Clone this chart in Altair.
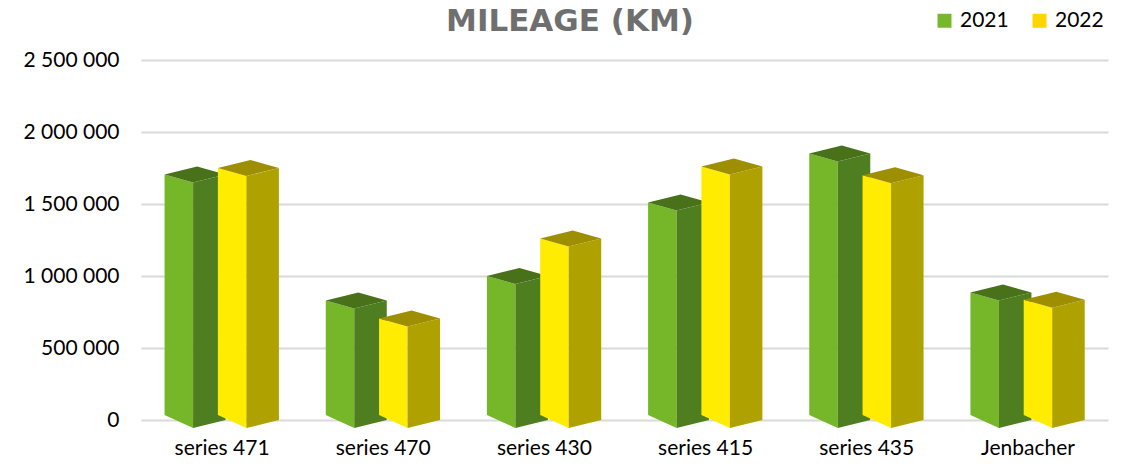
import altair as alt
import pandas as pd

# ---------------- data ----------------
categories = ["series 471", "series 470", "series 430", "series 415", "series 435", "Jenbacher"]
years = ["2021", "2022"]
values_2021 = [1705000, 830000, 1000000, 1510000, 1850000, 885000]
values_2022 = [1750000, 705000, 1260000, 1760000, 1700000, 835000]
y_ticks = [0, 500000, 1000000, 1500000, 2000000, 2500000]
title_text = "MILEAGE (KM)"

# ---------------- 3D bar geometry (styles) ----------------
W, H = 967, 360
X_DOMAIN = [-0.5, len(categories) - 0.5]
Y_DOMAIN = [0, 2500000]
PX_X = (X_DOMAIN[1] - X_DOMAIN[0]) / W      # category units per pixel
PX_Y = (Y_DOMAIN[1] - Y_DOMAIN[0]) / H      # value units per pixel

FRONT = 28.5 * PX_X      # front face width
SIDE = 32.5 * PX_X       # side face width
RISE = 8 * PX_Y          # perspective slope of top edges
LEFT_OFF = {"2021": -57 * PX_X, "2022": -3.7 * PX_X}
BOT_L, BOT_F, BOT_R = 5 * PX_Y, -8 * PX_Y, 0.0

face_colors = {
    "2021": {"front": "#76B72A", "side": "#4E7E1F", "top": "#48711A"},
    "2022": {"front": "#FFEC00", "side": "#AFA100", "top": "#9E8F00"},
}
legend_colors = ["#76B82A", "#FFD500"]

rows = []
for year, vals in zip(years, [values_2021, values_2022]):
    for i, v in enumerate(vals):
        xl = i + LEFT_OFF[year]
        xf = xl + FRONT
        xb = xl + SIDE
        xr = xf + SIDE
        k = f"{year}-{i}"
        rows += [
            dict(year=year, face="front", key=k, px=xl, hi=v, lo=BOT_L),
            dict(year=year, face="front", key=k, px=xf, hi=v - RISE, lo=BOT_F),
            dict(year=year, face="side", key=k, px=xf, hi=v - RISE, lo=BOT_F),
            dict(year=year, face="side", key=k, px=xr, hi=v, lo=BOT_R),
            dict(year=year, face="top", key=k, px=xl, hi=v, lo=v),
            dict(year=year, face="top", key=k, px=xf, hi=v + RISE * FRONT / SIDE, lo=v - RISE),
            dict(year=year, face="top", key=k, px=xb, hi=v + RISE, lo=v - RISE + RISE * (xb - xf) / SIDE),
            dict(year=year, face="top", key=k, px=xr, hi=v, lo=v),
        ]
df = pd.DataFrame(rows)

FONT = "Lato"
label_expr_x = "[" + ",".join("'" + c + "'" for c in categories) + "][datum.value]"
label_expr_y = "replace(replace(format(datum.value, ','), ',', ' '), ',', ' ')"

x_scale = alt.Scale(domain=X_DOMAIN, nice=False, zero=False)
y_scale = alt.Scale(domain=Y_DOMAIN, nice=False)

x_axis = alt.Axis(values=list(range(len(categories))), labelExpr=label_expr_x, grid=False,
                  ticks=False, domain=False, labelFont=FONT, labelFontSize=21,
                  labelColor="#000000", labelPadding=17, title=None)
y_axis = alt.Axis(values=y_ticks, labelExpr=label_expr_y, grid=True, gridColor="#D9D9D9",
                  gridWidth=2, ticks=False, domain=False, labelFont=FONT, labelFontSize=21,
                  labelColor="#000000", labelPadding=22, title=None)

layers = []
for year in years:
    for face in ["front", "side", "top"]:
        sub = df[(df.year == year) & (df.face == face)].reset_index(drop=True)
        layers.append(
            alt.Chart(sub).mark_area(fill=face_colors[year][face], interpolate="linear").encode(
                x=alt.X("px:Q", scale=x_scale, axis=x_axis),
                y=alt.Y("hi:Q", scale=y_scale, stack=None, axis=y_axis),
                y2="lo:Q",
                detail="key:N",
            )
        )

legend_df = pd.DataFrame({"year": years})
legend_layer = alt.Chart(legend_df).mark_square(opacity=1, size=196).encode(
    x=alt.value(-600), y=alt.value(-600),
    color=alt.Color("year:N", scale=alt.Scale(domain=years, range=legend_colors),
                    legend=alt.Legend(orient="none", legendX=793, legendY=-50, direction="horizontal",
                                      title=None, symbolType="square", symbolSize=196,
                                      symbolStrokeWidth=0, labelFont=FONT, labelFontSize=21,
                                      labelColor="#000000", labelOffset=5, columnPadding=20,
                                      padding=0)),
)
layers.append(legend_layer)

title_layer = alt.Chart(pd.DataFrame({"t": [title_text]})).mark_text(
    font="DejaVu Sans", fontSize=31, fontWeight="bold", color="#6F6F6F",
    align="center", baseline="middle"
).encode(text="t:N", x=alt.value(570 - 141), y=alt.value(22 - 60))
layers.append(title_layer)

chart = alt.layer(*layers).properties(
    width=W, height=H,
    autosize=alt.AutoSizeParams(type="none"),
    padding={"left": 133, "top": 52, "right": 18, "bottom": 39},
    background="white",
).configure_view(stroke=None)

chart.save("out.html", embed_options={"renderer": "svg", "actions": False})
